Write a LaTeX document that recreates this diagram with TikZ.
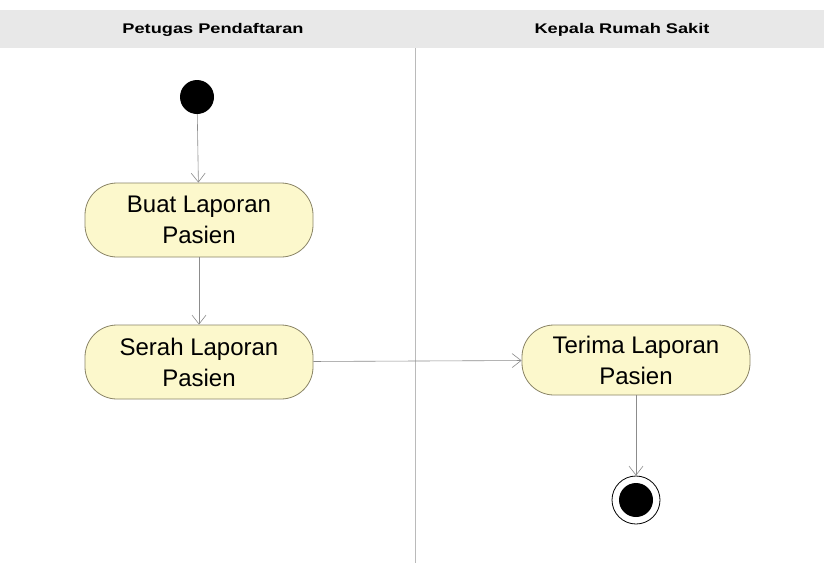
\documentclass[tikz,border=0pt]{standalone}
\usepackage{fontspec}
\setmainfont{Liberation Sans}
\usetikzlibrary{arrows.meta}
\definecolor{actfill}{HTML}{FCF8CC}
\definecolor{actborder}{HTML}{8A8466}
\definecolor{lanegray}{HTML}{E8E8E8}
\definecolor{linegray}{HTML}{8C8C8C}
\tikzset{
  actbox/.style={draw=actborder, fill=actfill, line width=0.8pt, rounded corners=32pt,
    minimum width=228pt, minimum height=74pt, align=center, inner sep=0pt,
    font=\fontsize{24}{31}\selectfont},
  flow/.style={draw=linegray, line width=0.6pt, -{Straight Barb[length=9pt,width=14pt,line width=0.6pt]}},
  lanehead/.style={font=\bfseries\fontsize{14}{16}\selectfont, inner sep=0pt}
}
\begin{document}
\begin{tikzpicture}[x=1pt,y=-1pt]
\useasboundingbox (0,0) rectangle (824,563);
\fill[white] (0,0) rectangle (824,563);
\fill[lanegray] (0,10) rectangle (824,48);
\draw[linegray!60, line width=0.5pt] (415,48) -- (415,563);
\node[lanehead] (h1) at (213,30) {\scalebox{1.3}[1]{Petugas Pendaftaran}};
\node[lanehead] (h2) at (622,30) {\scalebox{1.3}[1]{Kepala Rumah Sakit}};
\node[circle, fill=black, minimum size=34pt, inner sep=0pt] (start) at (197,97) {};
\node[actbox] (buat) at (199,220) {Buat Laporan\\Pasien};
\node[actbox] (serah) at (199,362) {Serah Laporan\\Pasien};
\node[actbox, minimum height=70pt] (terima) at (636,360) {Terima Laporan\\Pasien};
\node[circle, draw=black, line width=0.8pt, fill=white, minimum size=48pt, inner sep=0pt] (endo) at (636,500) {};
\node[circle, fill=black, minimum size=34pt, inner sep=0pt] (endi) at (636,500) {};
\draw[flow] (start) -- (buat);
\draw[flow] (buat) -- (serah);
\draw[flow] (serah) -- (terima);
\draw[flow] (terima) -- (endo);
\end{tikzpicture}
\end{document}
